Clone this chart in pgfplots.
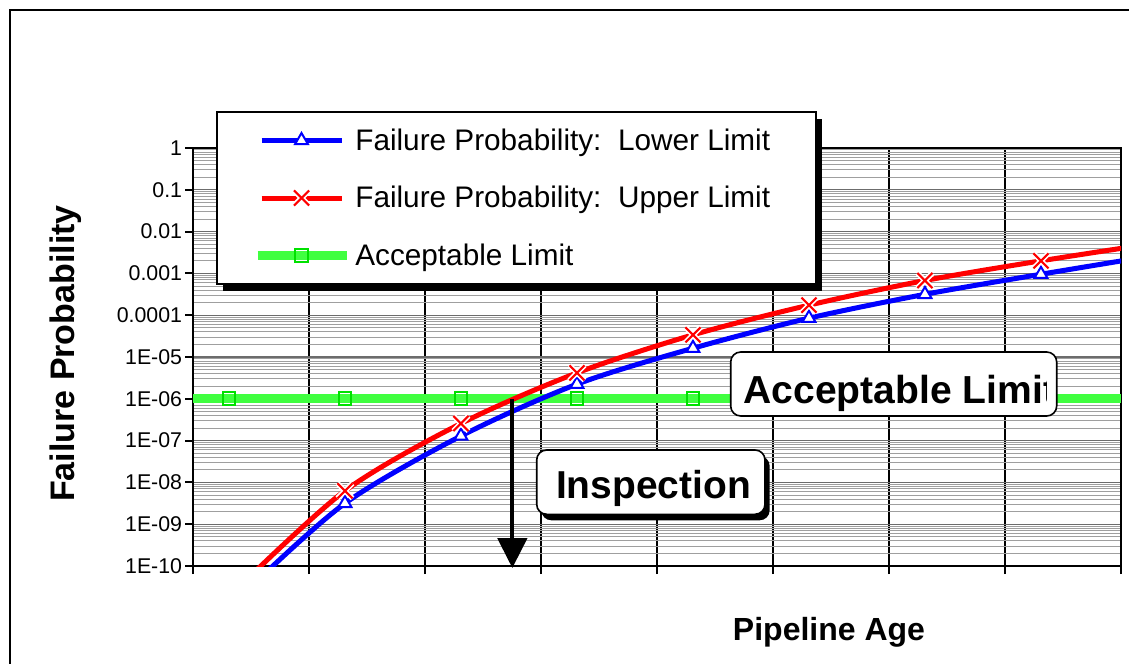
\documentclass[border=0pt]{standalone}
\usepackage{fontspec}
\setmainfont{Liberation Sans}
\usepackage{pgfplots}
\pgfplotsset{compat=1.18}
\usetikzlibrary{shadows,arrows.meta}

\makeatletter
\tikzset{no preactions/.code={\let\tikz@preactions\pgfutil@empty}}
\makeatother

\definecolor{accgreen}{RGB}{64,255,64}
\definecolor{accmark}{RGB}{0,225,0}

\pgfdeclareplotmark{xh}{%
  \pgfsetlinewidth{4pt}\pgfsetstrokecolor{white}%
  \pgfpathmoveto{\pgfqpoint{-.70710678\pgfplotmarksize}{-.70710678\pgfplotmarksize}}%
  \pgfpathlineto{\pgfqpoint{.70710678\pgfplotmarksize}{.70710678\pgfplotmarksize}}%
  \pgfpathmoveto{\pgfqpoint{-.70710678\pgfplotmarksize}{.70710678\pgfplotmarksize}}%
  \pgfpathlineto{\pgfqpoint{.70710678\pgfplotmarksize}{-.70710678\pgfplotmarksize}}%
  \pgfusepathqstroke
  \pgfsetlinewidth{1.6pt}\pgfsetstrokecolor{red}%
  \pgfpathmoveto{\pgfqpoint{-.70710678\pgfplotmarksize}{-.70710678\pgfplotmarksize}}%
  \pgfpathlineto{\pgfqpoint{.70710678\pgfplotmarksize}{.70710678\pgfplotmarksize}}%
  \pgfpathmoveto{\pgfqpoint{-.70710678\pgfplotmarksize}{.70710678\pgfplotmarksize}}%
  \pgfpathlineto{\pgfqpoint{.70710678\pgfplotmarksize}{-.70710678\pgfplotmarksize}}%
  \pgfusepathqstroke
}

\begin{document}
\begin{tikzpicture}
\path[use as bounding box] (0,0) rectangle (846.75pt,-498pt);
\begin{scope}
\clip (0,0) rectangle (846.75pt,-498pt);
\draw[line width=1.8pt] (7.5pt,-600pt) -- (7.5pt,-7.5pt) -- (900pt,-7.5pt);
\end{scope}
\begin{axis}[
  at={(144.75pt,-424.5pt)}, anchor=south west,
  scale only axis, width=696pt, height=313.5pt,
  xmin=0, xmax=8, ymode=log, ymin=1e-10, ymax=1,
  xtick={0,1,2,3,4,5,6,7,8}, xticklabels={},
  ytick={1e-10,1e-9,1e-8,1e-7,1e-6,1e-5,1e-4,1e-3,1e-2,1e-1,1},
  yticklabels={1E-10,1E-09,1E-08,1E-07,1E-06,1E-05,0.0001,0.001,0.01,0.1,1},
  minor ytick={2e-10,3e-10,4e-10,5e-10,6e-10,7e-10,8e-10,9e-10,
               2e-9,3e-9,4e-9,5e-9,6e-9,7e-9,8e-9,9e-9,
               2e-8,3e-8,4e-8,5e-8,6e-8,7e-8,8e-8,9e-8,
               2e-7,3e-7,4e-7,5e-7,6e-7,7e-7,8e-7,9e-7,
               2e-6,3e-6,4e-6,5e-6,6e-6,7e-6,8e-6,9e-6,
               2e-5,3e-5,4e-5,5e-5,6e-5,7e-5,8e-5,9e-5,
               2e-4,3e-4,4e-4,5e-4,6e-4,7e-4,8e-4,9e-4,
               2e-3,3e-3,4e-3,5e-3,6e-3,7e-3,8e-3,9e-3,
               2e-2,3e-2,4e-2,5e-2,6e-2,7e-2,8e-2,9e-2,
               2e-1,3e-1,4e-1,5e-1,6e-1,7e-1,8e-1,9e-1},
  xmajorgrids, ymajorgrids, yminorgrids,
  major x grid style={black, line width=0.8pt},
  major y grid style={gray!85!black, line width=0.9pt},
  minor y grid style={gray!75, line width=0.7pt},
  axis line style={line width=1.7pt},
  xtick pos=bottom, ytick pos=left,
  tick align=outside, major tick length=6pt, minor tick length=0pt,
  tick style={black, line width=1.5pt},
  yticklabel style={font=\fontsize{16}{19}\selectfont, inner xsep=2pt},
  legend style={at={(0.0248,1.0885)}, anchor=north west, draw=black,
    line width=1.5pt, fill=white, inner xsep=27pt, inner ysep=12.5pt,
    row sep=25.5pt, column sep=3pt,
    font=\fontsize{22.3}{26}\selectfont,
    nodes={inner sep=0pt},
    drop shadow={shadow xshift=4.5pt, shadow yshift=-5.25pt, fill=black, opacity=1},
    cells={anchor=west}},
]
% acceptable limit
\addplot[accgreen, line width=6.75pt, forget plot]
  coordinates {(0,1e-6) (8,1e-6)};
\addplot[only marks, mark=square, mark size=4.75pt,
  mark options={draw=accmark, fill=none, line width=1.5pt, solid}, forget plot]
  coordinates {(0.31,1e-6) (1.31,1e-6) (2.31,1e-6) (3.31,1e-6) (4.31,1e-6) (5.31,1e-6) (6.31,1e-6) (7.31,1e-6)};

% curves (hidden end points extend the lines to the axis edges)
\addplot[blue, line width=3.75pt, smooth, forget plot]
  coordinates {(0.5,3.2e-11) (1.31,3.16e-9) (2.31,1.29e-7) (3.31,2.24e-6) (4.31,1.62e-5) (5.31,8.5e-5) (6.31,3.16e-4) (7.31,9.55e-4) (8.31,2.75e-3)};
\addplot[red, line width=3.75pt, smooth, forget plot]
  coordinates {(0.4,3.2e-11) (1.31,6.3e-9) (2.31,2.57e-7) (3.31,4.17e-6) (4.31,3.39e-5) (5.31,1.74e-4) (6.31,6.76e-4) (7.31,2.0e-3) (8.31,5.37e-3)};

\addplot[only marks, mark=triangle*, mark size=5.6pt,
  mark options={fill=white, draw=blue, line width=1.5pt, solid},
  legend image code/.code={\draw[no preactions, blue, line width=3.75pt] (0pt,0pt) -- (60pt,0pt);
    \draw[no preactions, only marks, mark=triangle*, mark size=5.6pt, mark options={fill=white, draw=blue, line width=1.5pt}] plot coordinates {(30pt,0pt)};}]
  coordinates {(1.31,3.16e-9) (2.31,1.29e-7) (3.31,2.24e-6) (4.31,1.62e-5) (5.31,8.5e-5) (6.31,3.16e-4) (7.31,9.55e-4)};
\addlegendentry{Failure Probability:\ \ Lower Limit\rule{7.5pt}{0pt}}

\addplot[only marks, mark=xh, mark size=8pt, mark options={solid},
  legend image code/.code={\draw[no preactions, red, line width=3.75pt] (0pt,0pt) -- (60pt,0pt);
    \draw[no preactions, only marks, mark=xh, mark size=8pt] plot coordinates {(30pt,0pt)};}]
  coordinates {(1.31,6.3e-9) (2.31,2.57e-7) (3.31,4.17e-6) (4.31,3.39e-5) (5.31,1.74e-4) (6.31,6.76e-4) (7.31,2.0e-3)};
\addlegendentry{Failure Probability:\ \ Upper Limit}

\addlegendimage{legend image code/.code={\draw[no preactions, accgreen, line width=6.75pt] (-3pt,0pt) -- (64pt,0pt);
    \draw[no preactions, only marks, mark=square, mark size=4.75pt, mark options={draw=accmark, fill=none, line width=1.5pt}] plot coordinates {(30pt,0pt)};}}
\addlegendentry{Acceptable Limit}

\coordinate (arrowtop) at (axis cs:2.753,1e-6);
\coordinate (arrowbot) at (axis cs:2.753,1e-10);
\end{axis}

\draw[line width=3pt, -{Triangle[width=22pt,length=22.5pt]}] (arrowtop) -- ([yshift=-1.5pt]arrowbot);

\begin{scope}[x=0.75pt,y=-0.75pt]
  % Inspection box
  \draw[line width=1.2pt, rounded corners=7.5pt, fill=white,
    drop shadow={shadow xshift=3.5pt, shadow yshift=-4.5pt, fill=black, opacity=1}]
    (536.7,450) rectangle (765,514.3);
  \node[anchor=base, inner sep=0pt, font=\bfseries\fontsize{29.2}{33}\selectfont] at (653.5,498.3) {Inspection};
  % Acceptable Limit box
  \draw[line width=1.2pt, rounded corners=7.5pt, fill=white] (730.7,352) rectangle (1056.7,416);
  \begin{scope}
    \clip (730.7,352) rectangle (1046.7,416);
    \node[anchor=base west, inner sep=0pt, font=\bfseries\fontsize{29.3}{33}\selectfont] at (743.3,403.3) {Acceptable Limit};
  \end{scope}
  % axis labels
  \node[rotate=90, inner sep=0pt, font=\bfseries\fontsize{25.5}{29}\selectfont] at (66,353.5) {Failure Probability};
  \node[anchor=base, inner sep=0pt, font=\bfseries\fontsize{24}{28}\selectfont] at (829,640) {Pipeline Age};
\end{scope}
\end{tikzpicture}
\end{document}
